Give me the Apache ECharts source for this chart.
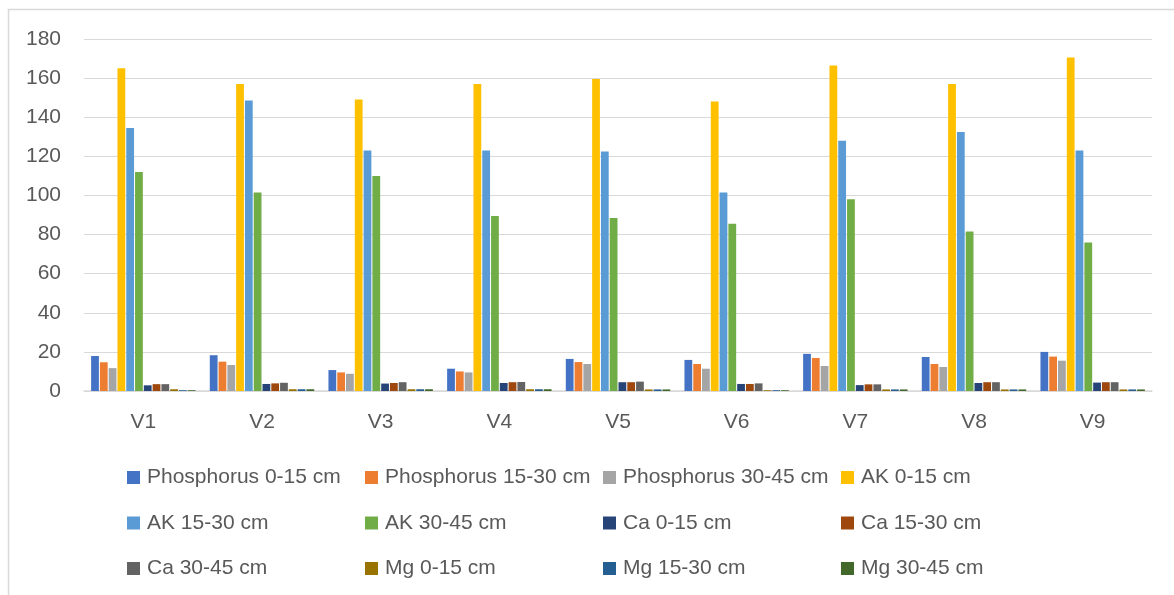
<!DOCTYPE html>
<html>
<head>
<meta charset="utf-8">
<script src="https://cdn.jsdelivr.net/npm/echarts@6/dist/echarts.min.js"></script>
<style>html,body{margin:0;padding:0;background:#fff}#c{width:1174px;height:595px}</style>
</head>
<body>
<div id="c"></div>
<script>
const categories = ['V1','V2','V3','V4','V5','V6','V7','V8','V9'];
const seriesNames = ['Phosphorus 0-15 cm','Phosphorus 15-30 cm','Phosphorus 30-45 cm','AK 0-15 cm','AK 15-30 cm','AK 30-45 cm','Ca 0-15 cm','Ca 15-30 cm','Ca 30-45 cm','Mg 0-15 cm','Mg 15-30 cm','Mg 30-45 cm'];
const phosphorus0_15  = [17.9, 18.3, 10.7, 11.4, 16.4, 15.9, 19.0, 17.4, 20.0];
const phosphorus15_30 = [14.7, 15.0, 9.5, 10.0, 14.8, 13.8, 16.9, 13.8, 17.6];
const phosphorus30_45 = [11.7, 13.3, 8.8, 9.5, 13.8, 11.4, 12.8, 12.3, 15.5];
const ak0_15  = [165, 157, 149, 157, 159.5, 148, 166.5, 157, 170.5];
const ak15_30 = [134.5, 148.5, 123, 123, 122.5, 101.5, 128, 132.5, 123];
const ak30_45 = [112, 101.5, 110, 89.5, 88.5, 85.5, 98, 81.5, 76];
const ca0_15  = [2.9, 3.6, 3.8, 4.1, 4.5, 3.6, 3.0, 4.1, 4.3];
const ca15_30 = [3.5, 3.9, 4.1, 4.5, 4.5, 3.6, 3.4, 4.5, 4.5];
const ca30_45 = [3.5, 4.2, 4.5, 4.6, 4.8, 3.9, 3.4, 4.5, 4.5];
const mg0_15  = [0.9, 0.9, 0.9, 0.9, 0.8, 0.4, 0.8, 0.8, 0.8];
const mg15_30 = [0.4, 0.9, 0.9, 0.9, 0.8, 0.4, 0.8, 0.8, 0.8];
const mg30_45 = [0.4, 0.9, 0.9, 0.9, 0.8, 0.4, 0.8, 0.8, 0.8];
const yTicks = [0, 20, 40, 60, 80, 100, 120, 140, 160, 180];

const allData = [phosphorus0_15, phosphorus15_30, phosphorus30_45, ak0_15, ak15_30, ak30_45, ca0_15, ca15_30, ca30_45, mg0_15, mg15_30, mg30_45];
const colors = ['#4472C4','#ED7D31','#A5A5A5','#FFC000','#5B9BD5','#70AD47','#264478','#9E480E','#636363','#997300','#255E91','#43682B'];
const FONT = 'Liberation Sans';

const chart = echarts.init(document.getElementById('c'));
const colLeft = [127, 365, 603, 841];
const legends = colLeft.map((x, ci) => ({
  orient: 'vertical',
  left: x,
  top: 467,
  padding: 0,
  itemGap: 24.5,
  itemWidth: 13,
  itemHeight: 13,
  icon: 'rect',
  textStyle: { fontFamily: FONT, fontSize: 21, color: '#595959', padding: [0,0,0,2] },
  data: [seriesNames[ci], seriesNames[ci + 4], seriesNames[ci + 8]]
}));

chart.setOption({
  animation: false,
  color: colors,
  graphic: [{ type: 'rect', shape: { x: 8.5, y: 9.5, width: 1200, height: 620 }, style: { fill: 'none', stroke: '#D9D9D9', lineWidth: 1.5 } }],
  legend: legends,
  grid: { left: 84, right: 22, top: 39, bottom: 204, containLabel: false },
  xAxis: {
    type: 'category',
    data: categories,
    axisTick: { show: false },
    axisLine: { lineStyle: { color: '#D9D9D9', width: 1.5 } },
    axisLabel: { fontFamily: FONT, fontSize: 21, color: '#595959', margin: 21 }
  },
  yAxis: {
    type: 'value',
    min: yTicks[0],
    max: yTicks[yTicks.length - 1],
    interval: 20,
    axisLine: { show: false },
    axisTick: { show: false },
    splitLine: { lineStyle: { color: '#D9D9D9', width: 1 } },
    axisLabel: { fontFamily: FONT, fontSize: 21, color: '#595959', margin: 23 }
  },
  series: allData.map((d, i) => ({
    name: seriesNames[i],
    type: 'bar',
    data: d,
    barGap: '13%',
    barCategoryGap: '12%',
    itemStyle: { color: colors[i] }
  }))
});
</script>
</body>
</html>
